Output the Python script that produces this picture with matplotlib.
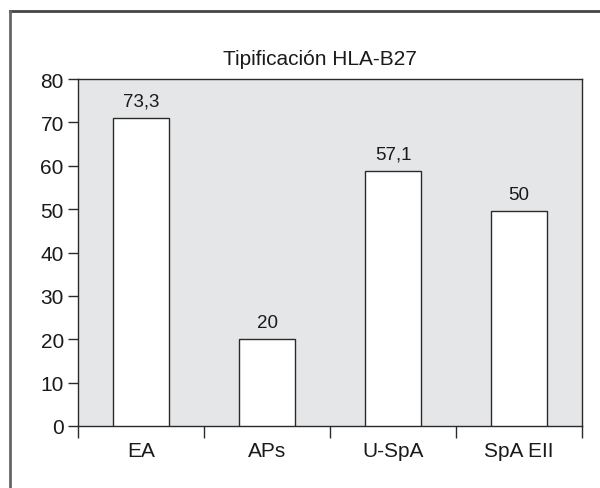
import matplotlib
matplotlib.use("Agg")
import matplotlib.pyplot as plt
from matplotlib.lines import Line2D

categories = ['EA', 'APs', 'U-SpA', 'SpA EII']
heights = [71.0, 20.0, 58.7, 49.5]
bar_labels = ['73,3', '20', '57,1', '50']
title = 'Tipificación HLA-B27'

plt.rcParams['font.family'] = ['Liberation Sans', 'DejaVu Sans']

fig = plt.figure(figsize=(6.0, 4.89), dpi=100)
W, H = 600, 489
ax = fig.add_axes([78 / W, 1 - 427 / H, (582 - 78) / W, (427 - 80) / H])
ax.set_facecolor('#e5e6e8')

x = list(range(len(categories)))
ax.bar(x, heights, width=0.44, color='white', edgecolor='#2a2a2a', linewidth=1.0, zorder=3)
for xi, h, lab in zip(x, heights, bar_labels):
    ax.annotate(lab, (xi, h), xytext=(0, 9), textcoords='offset points',
                ha='center', va='baseline', fontsize=13.5, color='#1a1a1a')

ax.set_xlim(-0.5, len(categories) - 0.5)
ax.set_ylim(0, 80)
ax.set_yticks(range(0, 81, 10))
ax.set_xticks([i - 0.5 for i in range(len(categories) + 1)])
ax.set_xticklabels([])
ax.set_xticks(x, minor=True)
ax.set_xticklabels(categories, minor=True)
ax.tick_params(axis='x', which='major', direction='out', length=8.6, width=1.0, color='#2a2a2a')
ax.tick_params(axis='x', which='minor', length=0, pad=11, labelsize=15, labelcolor='#1a1a1a')
ax.tick_params(axis='y', direction='out', length=7.2, width=1.0, pad=3, labelsize=15,
               color='#2a2a2a', labelcolor='#1a1a1a')
for s in ax.spines.values():
    s.set_color('#2a2a2a')
    s.set_linewidth(1.0)

ax.set_title(title, fontsize=15, color='#1a1a1a', pad=11, x=0.48)

# outer frame (top and left only)
fig.add_artist(Line2D([9.5 / W, 1], [1 - 12 / H, 1 - 12 / H], color='#444444', lw=2,
                      transform=fig.transFigure))
fig.add_artist(Line2D([9.5 / W, 9.5 / W], [0, 1 - 12 / H], color='#666666', lw=2,
                      transform=fig.transFigure))

fig.savefig('out.png', dpi=100, facecolor='white')
